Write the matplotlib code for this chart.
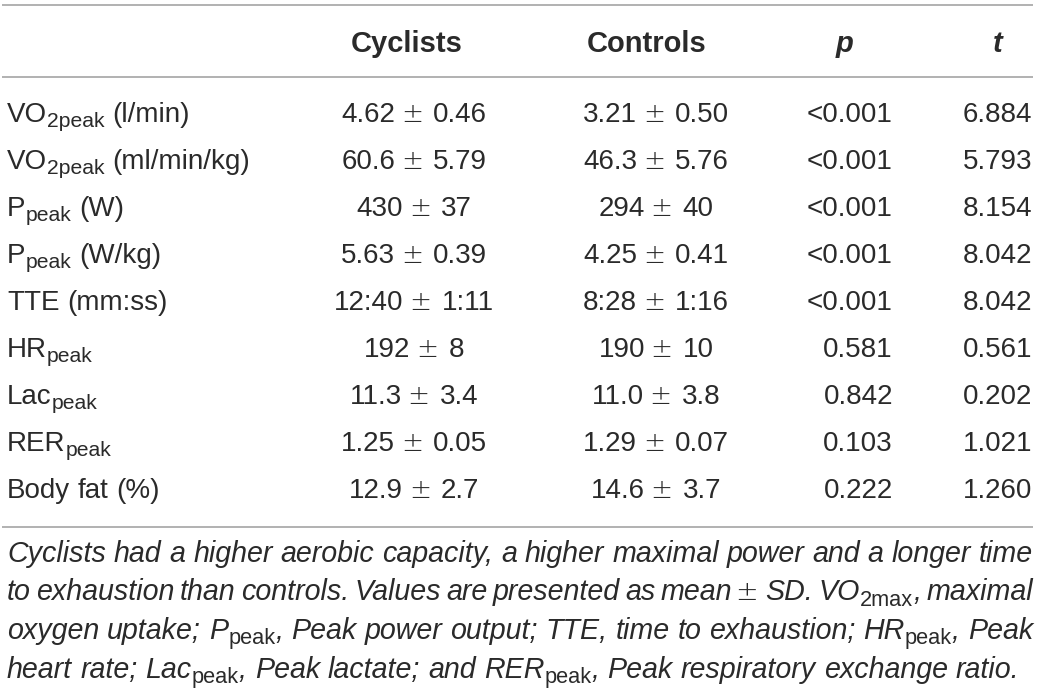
import re
import matplotlib
matplotlib.use("Agg")
import matplotlib.pyplot as plt

# table content ("_{...}" marks an upright subscript)
row_labels = [
    "VO_{2peak} (l/min)",
    "VO_{2peak} (ml/min/kg)",
    "P_{peak} (W)",
    "P_{peak} (W/kg)",
    "TTE (mm:ss)",
    "HR_{peak}",
    "Lac_{peak}",
    "RER_{peak}",
    "Body fat (%)",
]
cyclists = ["4.62 ± 0.46", "60.6 ± 5.79", "430 ± 37", "5.63 ± 0.39", "12:40 ± 1:11",
            "192 ± 8", "11.3 ± 3.4", "1.25 ± 0.05", "12.9 ± 2.7"]
controls = ["3.21 ± 0.50", "46.3 ± 5.76", "294 ± 40", "4.25 ± 0.41", "8:28 ± 1:16",
            "190 ± 10", "11.0 ± 3.8", "1.29 ± 0.07", "14.6 ± 3.7"]
p_values = ["<0.001", "<0.001", "<0.001", "<0.001", "<0.001", "0.581", "0.842", "0.103", "0.222"]
t_values = ["6.884", "5.793", "8.154", "8.042", "8.042", "0.561", "0.202", "1.021", "1.260"]
headers = ["Cyclists", "Controls", "p", "t"]
caption_lines = [
    "Cyclists had a higher aerobic capacity, a higher maximal power and a longer time",
    "to exhaustion than controls. Values are presented as mean ± SD. VO_{2max}, maximal",
    "oxygen uptake; P_{peak}, Peak power output; TTE, time to exhaustion; HR_{peak}, Peak",
    "heart rate; Lac_{peak}, Peak lactate; and RER_{peak}, Peak respiratory exchange ratio.",
]

W, H = 1041, 691
FONT = "Liberation Sans"
PM_FONT = "DejaVu Sans"
SIZE = 20
CAP_SIZE = 20.6
HEAD_SIZE = 21
SUB = 0.76
SUB_DROP = 5
INK = "#2a2a2a"
RULE = "#ababab"

fig = plt.figure(figsize=(W / 100, H / 100), dpi=100)
ax = fig.add_axes([0, 0, 1, 1])
ax.set_xlim(0, W)
ax.set_ylim(H, 0)
ax.axis("off")
renderer = fig.canvas.get_renderer()


def parse(s):
    words = []
    for w in s.split(" "):
        segs = []
        for m in re.finditer(r"_\{([^}]*)\}|([^_]+)", w):
            if m.group(1) is not None:
                segs.append((m.group(1), True))
            else:
                segs.append((m.group(2), False))
        words.append(segs)
    return words


def seg_props(seg, size, style, weight):
    txt, sub = seg
    if sub:
        return dict(fontsize=size * SUB, family=FONT, style="normal", weight=weight)
    if txt == "±":
        return dict(fontsize=size * 0.95, family=PM_FONT, style="normal", weight="light")
    return dict(fontsize=size, family=FONT, style=style, weight=weight)


def measure(txt, **kw):
    t = ax.text(0, 0, txt, **kw)
    w = t.get_window_extent(renderer).width
    t.remove()
    return w


def draw_rich(s, x, y, size=SIZE, align="left", style="normal", weight="normal", right=None):
    words = parse(s)
    widths = [sum(measure(sg[0], **seg_props(sg, size, style, weight)) for sg in wd)
              for wd in words]
    base = dict(fontsize=size, family=FONT, style=style, weight=weight)
    space = measure("a a", **base) - measure("aa", **base)
    gap = space
    if right is not None and len(words) > 1:
        gap = (right - x - sum(widths)) / (len(words) - 1)
    total = sum(widths) + gap * (len(words) - 1)
    if align == "center":
        x = x - total / 2
    elif align == "right":
        x = x - total
    for wd, ww in zip(words, widths):
        cx = x
        for sg in wd:
            props = seg_props(sg, size, style, weight)
            nudge = -2 if sg[0] == "±" else 0
            ax.text(cx + nudge, y + (SUB_DROP if sg[1] else 0), sg[0], color=INK,
                    va="baseline", ha="left", **props)
            cx += measure(sg[0], **props)
        x += ww + gap


# column layout (pixels)
label_x = 7
col_centers = [414, 656]
p_right, t_right = 893, 1032
header_x = [407, 647, 845, 998]
header_base = 52
row_base0, row_step = 122, 47

# rules
for yy in (5, 77, 527):
    ax.plot([2, 1033], [yy, yy], color=RULE, lw=1.3, solid_capstyle="butt")

# header
for i, (hx, h) in enumerate(zip(header_x, headers)):
    draw_rich(h, hx, header_base, size=HEAD_SIZE, align="center", weight="bold",
              style="italic" if i >= 2 else "normal")

# body rows
for i, lab in enumerate(row_labels):
    yb = row_base0 + i * row_step
    draw_rich(lab, label_x, yb)
    draw_rich(cyclists[i], col_centers[0], yb, align="center")
    draw_rich(controls[i], col_centers[1], yb, align="center")
    draw_rich(p_values[i], p_right, yb, align="right")
    draw_rich(t_values[i], t_right, yb, align="right")

# caption (justified except last line)
cap_base0, cap_step = 562, 38.5
for i, line in enumerate(caption_lines):
    yb = cap_base0 + i * cap_step
    last = i == len(caption_lines) - 1
    draw_rich(line, 7, yb, size=CAP_SIZE, style="italic", right=None if last else 1033)

fig.savefig("out.png", dpi=100)
